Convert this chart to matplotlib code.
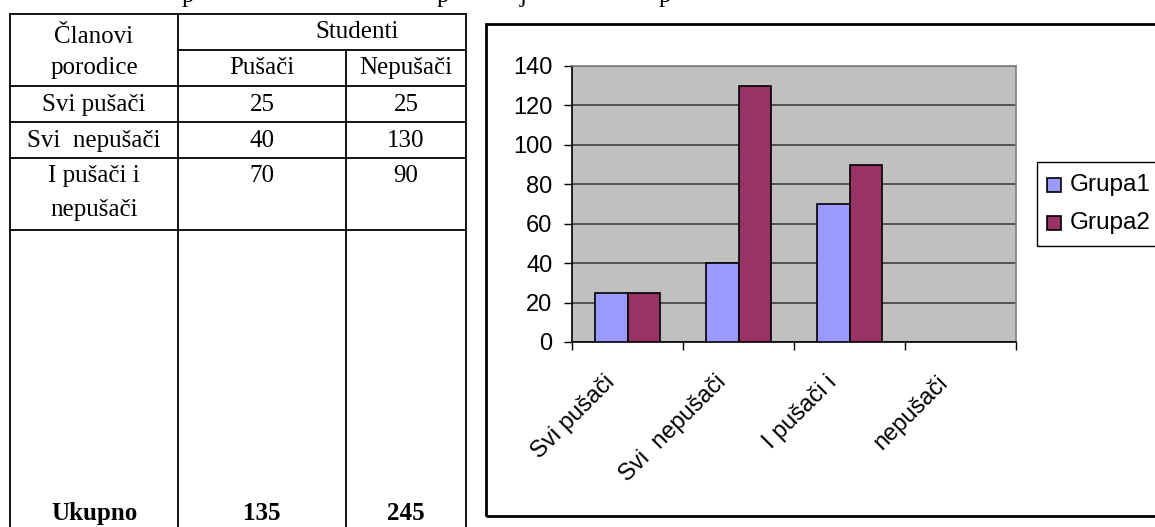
import numpy as np
import matplotlib
matplotlib.use("Agg")
import matplotlib.pyplot as plt
import matplotlib.transforms as mtransforms
from matplotlib.lines import Line2D
from matplotlib.patches import Rectangle

# data
categories = ["Svi pušači", "Svi  nepušači", "I pušači i", "nepušači"]
grupa1 = [25, 40, 70]
grupa2 = [25, 130, 90]
series_names = ["Grupa1", "Grupa2"]
y_ticks = [0, 20, 40, 60, 80, 100, 120, 140]

table_rows = ["Svi pušači", "Svi  nepušači"]
pusaci = [25, 40, 70]
nepusaci = [25, 130, 90]
total_pusaci = 135
total_nepusaci = 245

W, H = 1155, 527
C1 = "#9999FF"
C2 = "#993366"


def fx(x):
    return x / W


def fy(y):
    return 1 - y / H


fig = plt.figure(figsize=(W / 100, H / 100), dpi=100)

# ---- table on the left ----
serif = "Liberation Serif"
fs = 18
lw = 1.3


def hline(y, x0, x1):
    fig.add_artist(Line2D([fx(x0), fx(x1)], [fy(y), fy(y)], color="black", lw=lw))


def vline(x, y0, y1):
    fig.add_artist(Line2D([fx(x), fx(x)], [fy(y0), fy(y1)], color="black", lw=lw))


vline(10, 14, 530)
vline(178, 14, 530)
vline(346, 50, 530)   # "Studenti" is a merged cell
vline(466, 14, 530)
hline(14, 10, 466)
hline(50, 178, 466)
for y in [86, 122, 158, 230]:
    hline(y, 10, 466)


def ttext(x, y, s, bold=False):
    fig.text(fx(x), fy(y), s, ha="center", va="baseline", family=serif,
             fontsize=fs, fontweight="bold" if bold else "normal")


c1, c2, c3 = 94, 262, 406
ttext(c1, 43, "Članovi")
ttext(c1, 74, "porodice")
ttext(357, 38, "Studenti")
ttext(c2, 74, "Pušači")
ttext(c3, 74, "Nepušači")
row_base = [111, 147, 182]
labels_col = table_rows + ["I pušači i"]
for i in range(3):
    ttext(c1, row_base[i], labels_col[i])
    ttext(c2, row_base[i], str(pusaci[i]))
    ttext(c3, row_base[i], str(nepusaci[i]))
ttext(c1, 216, "nepušači")
ttext(c1, 520, "Ukupno", bold=True)
ttext(c2, 520, str(total_pusaci), bold=True)
ttext(c3, 520, str(total_nepusaci), bold=True)

# descenders of the cut-off line above
for x, s in [(188, "p"), (443, "p"), (523, "j"), (665, "p")]:
    fig.text(fx(x), fy(2), s, ha="center", va="baseline", family=serif, fontsize=fs)

# ---- chart on the right ----
fig.add_artist(Rectangle((fx(486), fy(516)), fx(1200) - fx(486), fy(24) - fy(516),
                         transform=fig.transFigure, fill=False, ec="black", lw=2))

sans = "Liberation Sans"
ax = fig.add_axes([fx(572), fy(342), fx(1016) - fx(572), fy(66) - fy(342)])
ax.set_facecolor("#C0C0C0")
n = len(categories)
x = np.arange(len(grupa1))
bw = 0.29
ax.bar(x - bw / 2, grupa1, bw, color=C1, edgecolor="black", lw=1.2, zorder=3, label=series_names[0])
ax.bar(x + bw / 2, grupa2, bw, color=C2, edgecolor="black", lw=1.2, zorder=3, label=series_names[1])
ax.set_xlim(-0.5, n - 0.5)
ax.set_ylim(0, 140)
ax.set_yticks(y_ticks)
ax.yaxis.grid(True, color="#404040", lw=1.2, zorder=1)
ax.set_axisbelow(True)
ax.tick_params(axis="y", direction="out", length=6, width=1, pad=8, labelsize=17)
for lab in ax.get_yticklabels():
    lab.set_family(sans)

ax.set_xticks(np.arange(n + 1) - 0.5)
ax.set_xticklabels([])
ax.tick_params(axis="x", which="major", direction="out", length=6, width=1)
ax.set_xticks(np.arange(n), minor=True)
ax.set_xticklabels(categories, minor=True, rotation=45, ha="right", va="top",
                   family=sans, fontsize=17)
ax.tick_params(axis="x", which="minor", length=0, pad=21)
shift = mtransforms.ScaledTranslation(-0.08, 0, fig.dpi_scale_trans)
for lab in ax.get_xticklabels(minor=True):
    lab.set_transform(lab.get_transform() + shift)

for side in ["top", "right"]:
    ax.spines[side].set_color("#808080")
    ax.spines[side].set_linewidth(1.2)
for side in ["left", "bottom"]:
    ax.spines[side].set_color("black")
    ax.spines[side].set_linewidth(1.2)

# legend box
fig.add_artist(Rectangle((fx(1037), fy(246)), fx(1200) - fx(1037), fy(162) - fy(246),
                         transform=fig.transFigure, fill=False, ec="black", lw=1))
for i, (name, col) in enumerate(zip(series_names, [C1, C2])):
    yc = [185, 223][i]
    fig.add_artist(Rectangle((fx(1047), fy(yc + 7)), fx(14), 14 / H, transform=fig.transFigure,
                             fc=col, ec="black", lw=1.2))
    fig.text(fx(1070), fy(yc), name, ha="left", va="center", family=sans, fontsize=17.5)

fig.savefig("out.png", dpi=100)
